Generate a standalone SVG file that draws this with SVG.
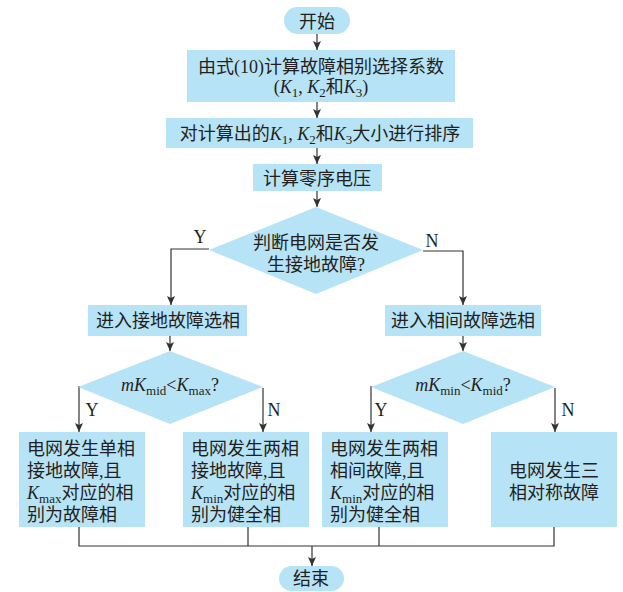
<svg xmlns="http://www.w3.org/2000/svg" width="623" height="592" viewBox="0 0 623 592">
<style>
.n{fill:#b7e3f7;stroke:none}
.t{font-family:"Liberation Serif","Noto Sans CJK SC",serif;font-size:18px;fill:#231f20}
.c{text-anchor:middle}
.i{font-style:italic}
.s{font-size:13px}
.ln{fill:none;stroke:#333;stroke-width:1.2}
</style>
<defs>
<marker id="a" markerUnits="userSpaceOnUse" markerWidth="9" markerHeight="8" refX="9" refY="4" orient="auto" viewBox="0 0 9 8">
<path d="M0 0 L9 4 L0 8 L2 4 Z" fill="#333"/>
</marker>
</defs>
<g id="connectors">
<path class="ln" d="M317 34 V50" marker-end="url(#a)"/>
<path class="ln" d="M317 102 V118" marker-end="url(#a)"/>
<path class="ln" d="M317 148 V164" marker-end="url(#a)"/>
<path class="ln" d="M317 191 V207" marker-end="url(#a)"/>
<path class="ln" d="M209 249 H171 V305" marker-end="url(#a)"/>
<path class="ln" d="M423 251 H463 V305" marker-end="url(#a)"/>
<path class="ln" d="M170 336 V351" marker-end="url(#a)"/>
<path class="ln" d="M463 336 V351" marker-end="url(#a)"/>
<path class="ln" d="M79 386 V432" marker-end="url(#a)"/>
<path class="ln" d="M263 388 V432" marker-end="url(#a)"/>
<path class="ln" d="M371 386 V432" marker-end="url(#a)"/>
<path class="ln" d="M555 388 V432" marker-end="url(#a)"/>
<path class="ln" d="M79 527 V546 H554 V527 M248 527 V546 M379 527 V546"/>
<path class="ln" d="M312 546 V566" marker-end="url(#a)"/>
<text class="t c" x="200" y="243">Y</text>
<text class="t c" x="432" y="247">N</text>
<text class="t c" x="92" y="416">Y</text>
<text class="t c" x="274" y="416">N</text>
<text class="t c" x="381" y="416">Y</text>
<text class="t c" x="568" y="416">N</text>
</g>
<g id="start">
<rect class="n" x="284" y="7" width="66" height="27" rx="13.5"/>
<text class="t c" x="317" y="28">开始</text>
</g>
<g id="calc-coef">
<rect class="n" x="187" y="50" width="268" height="52"/>
<text class="t c" x="321" y="73">由式(10)计算故障相别选择系数</text>
<text class="t c" x="321" y="93">(<tspan class="i">K</tspan><tspan class="s" dy="4">1</tspan><tspan dy="-4">, </tspan><tspan class="i">K</tspan><tspan class="s" dy="4">2</tspan><tspan dy="-4">和</tspan><tspan class="i">K</tspan><tspan class="s" dy="4">3</tspan><tspan dy="-4">)</tspan></text>
</g>
<g id="sort">
<rect class="n" x="166" y="118" width="307" height="30"/>
<text class="t c" x="320" y="140">对计算出的<tspan class="i">K</tspan><tspan class="s" dy="4">1</tspan><tspan dy="-4">, </tspan><tspan class="i">K</tspan><tspan class="s" dy="4">2</tspan><tspan dy="-4">和</tspan><tspan class="i">K</tspan><tspan class="s" dy="4">3</tspan><tspan dy="-4">大小进行排序</tspan></text>
</g>
<g id="zero-seq">
<rect class="n" x="253" y="164" width="129" height="27"/>
<text class="t c" x="317" y="185">计算零序电压</text>
</g>
<g id="decision-ground">
<polygon class="n" points="316,207 423,250 316,294 209,250"/>
<text class="t c" x="316" y="249">判断电网是否发</text>
<text class="t c" x="316" y="271">生接地故障?</text>
</g>
<g id="ground-select">
<rect class="n" x="88" y="305" width="159" height="31"/>
<text class="t c" x="168" y="327">进入接地故障选相</text>
</g>
<g id="phase-select">
<rect class="n" x="385" y="305" width="156" height="31"/>
<text class="t c" x="463" y="327">进入相间故障选相</text>
</g>
<g id="decision-max">
<polygon class="n" points="170,351 263,387 170,424 78,387"/>
<text class="t c" x="170" y="391"><tspan class="i">mK</tspan><tspan class="s" dy="4">mid</tspan><tspan dy="-4">&lt;</tspan><tspan class="i">K</tspan><tspan class="s" dy="4">max</tspan><tspan dy="-4">?</tspan></text>
</g>
<g id="decision-min">
<polygon class="n" points="463,351 555,387 463,424 371,387"/>
<text class="t c" x="463" y="391"><tspan class="i">mK</tspan><tspan class="s" dy="4">min</tspan><tspan dy="-4">&lt;</tspan><tspan class="i">K</tspan><tspan class="s" dy="4">mid</tspan><tspan dy="-4">?</tspan></text>
</g>
<g id="single-ground">
<rect class="n" x="19" y="432" width="126" height="95"/>
<text class="t" x="27" y="455">电网发生单相</text>
<text class="t" x="27" y="477">接地故障,且</text>
<text class="t" x="27" y="499"><tspan class="i">K</tspan><tspan class="s" dy="4">max</tspan><tspan dy="-4">对应的相</tspan></text>
<text class="t" x="27" y="521">别为故障相</text>
</g>
<g id="two-ground">
<rect class="n" x="183" y="432" width="126" height="95"/>
<text class="t" x="191" y="455">电网发生两相</text>
<text class="t" x="191" y="477">接地故障,且</text>
<text class="t" x="191" y="499"><tspan class="i">K</tspan><tspan class="s" dy="4">min</tspan><tspan dy="-4">对应的相</tspan></text>
<text class="t" x="191" y="521">别为健全相</text>
</g>
<g id="two-phase">
<rect class="n" x="322" y="432" width="126" height="95"/>
<text class="t" x="330" y="455">电网发生两相</text>
<text class="t" x="330" y="477">相间故障,且</text>
<text class="t" x="330" y="499"><tspan class="i">K</tspan><tspan class="s" dy="4">min</tspan><tspan dy="-4">对应的相</tspan></text>
<text class="t" x="330" y="521">别为健全相</text>
</g>
<g id="three-phase">
<rect class="n" x="491" y="432" width="126" height="95"/>
<text class="t c" x="554" y="477">电网发生三</text>
<text class="t c" x="554" y="499">相对称故障</text>
</g>
<g id="end">
<rect class="n" x="279" y="566" width="65" height="25" rx="12.5"/>
<text class="t c" x="311" y="585">结束</text>
</g>
</svg>
